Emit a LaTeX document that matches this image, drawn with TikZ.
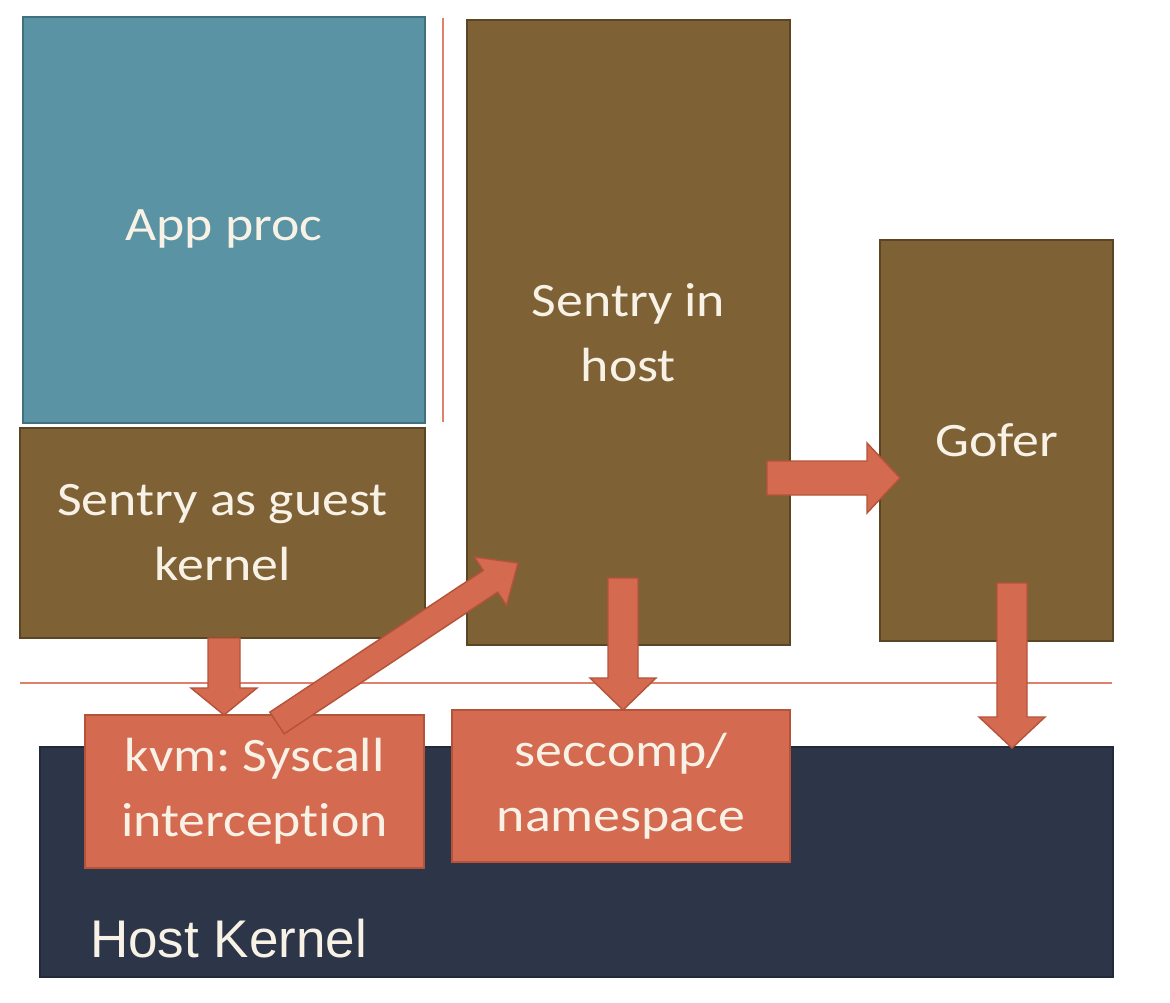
\documentclass[tikz,border=0pt]{standalone}
\usepackage{fontspec}
\setmainfont{Carlito}[FakeStretch=1.12, Ligatures=NoCommon]
\newfontfamily\hostfont{Liberation Sans}
\usetikzlibrary{calc}
\frenchspacing
\definecolor{appblue}{HTML}{5A93A4}
\definecolor{appblueedge}{HTML}{41707F}
\definecolor{sentrybrown}{HTML}{7F6136}
\definecolor{sentrybrownedge}{HTML}{5C4524}
\definecolor{accent}{HTML}{D46A4F}
\definecolor{accentedge}{HTML}{B4533A}
\definecolor{kernelnavy}{HTML}{2D3648}
\definecolor{kernelnavyedge}{HTML}{222A39}
\definecolor{divline}{HTML}{E0806C}
\definecolor{textcream}{HTML}{F8F2E6}
\tikzset{
  box/.style={rectangle, inner sep=0pt, outer sep=0pt, line width=1.6pt,
    align=center, text=textcream, font=\fontsize{48}{65}\selectfont},
  appbox/.style={box, fill=appblue, draw=appblueedge},
  brownbox/.style={box, fill=sentrybrown, draw=sentrybrownedge},
  orangebox/.style={box, fill=accent, draw=accentedge},
  kernelbox/.style={rectangle, inner sep=0pt, outer sep=0pt, fill=kernelnavy,
    draw=kernelnavyedge, line width=1.2pt},
  blockarrowstyle/.style={fill=accent, draw=accentedge, line width=1.4pt, line join=miter},
  divider/.style={draw=divline, line width=2pt},
}
% #1 tail, #2 tip, #3 half shaft width, #4 half head width, #5 head length (all in pt)
\newcommand{\blockarrow}[5]{%
  \coordinate (ba-h) at ($(#2)!#5pt!(#1)$);
  \path[blockarrowstyle] ($(#1)!#3pt!90:(#2)$) -- ($(ba-h)!#3pt!-90:(#1)$)
    -- ($(ba-h)!#4pt!-90:(#1)$) -- (#2) -- ($(ba-h)!#4pt!90:(#1)$)
    -- ($(ba-h)!#3pt!90:(#1)$) -- ($(#1)!#3pt!-90:(#2)$) -- cycle;
}
\begin{document}
\begin{tikzpicture}[x=1pt,y=-1pt]
  \useasboundingbox[fill=white] (0,0) rectangle (1170,1002);

  % host kernel base
  \node[kernelbox, minimum width=1073pt, minimum height=230pt] (kernel) at (576.5,862) {};
  \node[anchor=base west, inner sep=0pt, text=textcream,
        font=\hostfont\fontsize{53}{60}\selectfont] (kernellabel) at (90,957) {Host Kernel};

  % upper boxes
  \node[appbox, minimum width=402pt, minimum height=406pt] (app) at (224,220) {};
  \node[box, anchor=base] (applabel) at (224,240) {App proc};
  \node[brownbox, minimum width=405pt, minimum height=210pt] (guest) at (222.5,533) {Sentry as guest\\kernel};
  \node[brownbox, minimum width=323pt, minimum height=625pt] (host) at (628.5,332.5) {Sentry in\\host};
  \node[brownbox, minimum width=233pt, minimum height=401pt] (gofer) at (996.5,440.5) {Gofer};

  % lower boxes
  \node[orangebox, minimum width=339pt, minimum height=153pt] (kvm) at (254.5,791.5) {kvm: Syscall\\interception};
  \node[orangebox, minimum width=338pt, minimum height=152pt] (seccomp) at (621,786) {seccomp/\\namespace};

  % divider lines
  \coordinate (vtop) at (443,18);
  \coordinate (vbot) at (443,422);
  \draw[divider] (vtop) -- (vbot);
  \coordinate (hleft) at (20,683);
  \coordinate (hright) at (1112,683);
  \draw[divider] (hleft) -- (hright);

  % block arrows
  \coordinate (a1t) at (224,638);
  \coordinate (a1h) at (224,715);
  \blockarrow{a1t}{a1h}{16}{33}{27}

  \coordinate (d1t) at (277,723);
  \coordinate (d1h) at (518,563);
  \blockarrow{d1t}{d1h}{13}{29}{33}

  \coordinate (a2t) at (623,578);
  \coordinate (a2h) at (623,710);
  \blockarrow{a2t}{a2h}{15}{33}{32}

  \coordinate (a3t) at (767,478);
  \coordinate (a3h) at (900,478);
  \blockarrow{a3t}{a3h}{17}{35}{33}

  \coordinate (a4t) at (1012,583);
  \coordinate (a4h) at (1012,748);
  \blockarrow{a4t}{a4h}{15}{33}{31}
\end{tikzpicture}
\end{document}
